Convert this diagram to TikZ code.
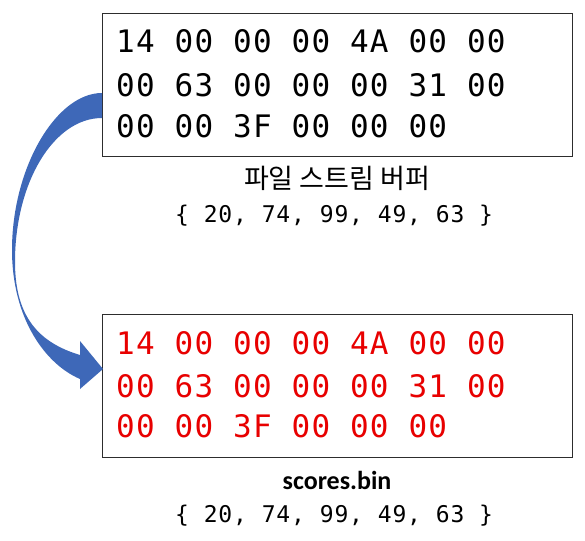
\documentclass[tikz,border=0pt]{standalone}
\usepackage{fontspec}
\setmainfont{Liberation Sans}
\newfontfamily\hexfont{DejaVu Sans Mono}[LetterSpace=4]
\newfontfamily\arrfont{DejaVu Sans Mono}[LetterSpace=3.8]
\newfontfamily\krfont{Noto Sans CJK KR}
\newfontfamily\calfont{Carlito}
\definecolor{arrowblue}{RGB}{62,104,184}
\definecolor{hexred}{RGB}{232,0,0}
\definecolor{boxline}{RGB}{45,45,45}
\begin{document}
\begin{tikzpicture}[x=1pt,y=-1pt,
  membox/.style={draw=boxline,line width=1.4pt,anchor=north west,minimum width=470pt,minimum height=143pt,inner sep=0pt},
  hexrow/.style={anchor=base west,inner sep=0pt,font=\hexfont\fontsize{31}{31}\selectfont},
  arrrow/.style={anchor=base west,inner sep=0pt,font=\arrfont\fontsize{23}{23}\selectfont},
  caption/.style={anchor=base,inner sep=0pt}]
\useasboundingbox (0,0) rectangle (585,540);
\fill[white] (0,0) rectangle (585,540);

% boxes
\node[membox] (topbox) at (102,13) {};
\node[membox] (botbox) at (102,314) {};

% top hex rows
\node[hexrow] (t1) at (116,53) {14 00 00 00 4A 00 00};
\node[hexrow] (t2) at (116,96.5) {00 63 00 00 00 31 00};
\node[hexrow] (t3) at (116,137.5) {00 00 3F 00 00 00};

% bottom hex rows
\node[hexrow,text=hexred] (b1) at (116,354) {14 00 00 00 4A 00 00};
\node[hexrow,text=hexred] (b2) at (116,397) {00 63 00 00 00 31 00};
\node[hexrow,text=hexred] (b3) at (116,437) {00 00 3F 00 00 00};

% captions
\node[caption,font=\krfont\fontsize{27}{27}\selectfont] (cap1) at (337,188) {파일 스트림 버퍼};
\node[arrrow] (arr1) at (175,222) {\{ 20, 74, 99, 49, 63 \}};
\node[caption,font=\calfont\bfseries\fontsize{26}{26}\selectfont] (cap2) at (337,489) {scores.bin};
\node[arrrow] (arr2) at (175,522) {\{ 20, 74, 99, 49, 63 \}};

% curved block arrow
\fill[arrowblue]
  (102,93) .. controls (56,93) and (12,168) .. (12,250)
  .. controls (12,318) and (45,364) .. (80,379)
  -- (80,389) -- (103,369) -- (80,341) -- (80,355)
  .. controls (40,343) and (15,318) .. (15,262)
  .. controls (15,182) and (54,118) .. (102,118) -- cycle;
\end{tikzpicture}
\end{document}
